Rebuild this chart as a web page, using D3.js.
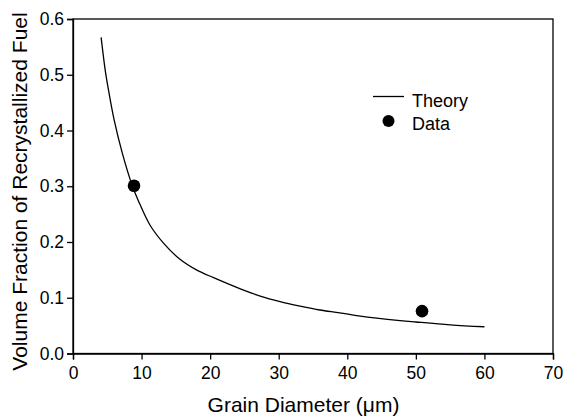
<!DOCTYPE html>
<html>
<head>
<meta charset="utf-8">
<script src="https://cdn.jsdelivr.net/npm/d3@7"></script>
<style>
  body { margin: 0; background: #fff; }
  svg { font-family: "Liberation Sans", Arial, sans-serif; }
</style>
</head>
<body>
<svg id="chart" width="564" height="416"></svg>
<script>
// theory curve
var theoryX = [4.1, 4.7, 5.1, 6.0, 7.2, 8.7, 9.5, 11.2, 13.2, 15.6, 18.0, 20.5, 24.4, 27.3, 30.2, 33.1, 36.0, 38.9, 41.9, 47.7, 50.0, 55.0, 60.0];
var theoryY = [0.567, 0.508, 0.478, 0.419, 0.359, 0.299, 0.275, 0.231, 0.198, 0.169, 0.150, 0.136, 0.116, 0.103, 0.093, 0.085, 0.078, 0.073, 0.067, 0.059, 0.0565, 0.0515, 0.048];

// measured points
var dataX = [8.9, 50.9];
var dataY = [0.301, 0.076];

var xTicks = [0, 10, 20, 30, 40, 50, 60, 70];
var yTicks = [0.0, 0.1, 0.2, 0.3, 0.4, 0.5, 0.6];

var svg = d3.select("#chart");
var plotLeft = 73, plotTop = 19, plotRight = 553, plotBottom = 353.5;

var x = d3.scaleLinear().domain([0, 70]).range([plotLeft, plotRight]);
var y = d3.scaleLinear().domain([0, 0.6]).range([plotBottom, plotTop]);

// frame
svg.append("rect")
    .attr("x", plotLeft).attr("y", plotTop)
    .attr("width", plotRight - plotLeft).attr("height", plotBottom - plotTop)
    .attr("fill", "none").attr("stroke", "#000").attr("stroke-width", 1.3);

var xAxis = d3.axisBottom(x).tickValues(xTicks).tickSize(6).tickPadding(7).tickFormat(d3.format("d"));
var yAxis = d3.axisLeft(y).tickValues(yTicks).tickSize(6).tickPadding(3).tickFormat(d3.format(".1f"));

svg.append("g")
    .attr("class", "axis")
    .attr("transform", "translate(0," + plotBottom + ")")
    .call(xAxis);

svg.append("g")
    .attr("class", "axis")
    .attr("transform", "translate(" + plotLeft + ",0)")
    .call(yAxis);

svg.selectAll(".axis").attr("font-size", null).attr("font-family", null);
svg.selectAll(".axis .domain").attr("stroke-width", 1.3);
svg.selectAll(".axis line").attr("stroke-width", 1.3);
svg.selectAll(".axis text")
    .style("font-size", "17.5px")
    .attr("fill", "#000");

// theory line
var theory = theoryX.map(function(d, i) { return [d, theoryY[i]]; });
var line = d3.line()
    .x(function(d) { return x(d[0]); })
    .y(function(d) { return y(d[1]); })
    .curve(d3.curveCatmullRom);

svg.append("path")
    .datum(theory)
    .attr("d", line)
    .attr("fill", "none")
    .attr("stroke", "#000")
    .attr("stroke-width", 1.3);

// data points
svg.selectAll("circle.pt")
    .data(dataX)
    .enter()
    .append("circle")
    .attr("class", "pt")
    .attr("cx", function(d) { return x(d); })
    .attr("cy", function(d, i) { return y(dataY[i]); })
    .attr("r", 6.3)
    .attr("fill", "#000");

// legend
svg.append("line")
    .attr("x1", 373).attr("x2", 404)
    .attr("y1", 96.5).attr("y2", 96.5)
    .attr("stroke", "#000").attr("stroke-width", 1.3);
svg.append("text")
    .attr("x", 412).attr("y", 106.5)
    .style("font-size", "18px")
    .text("Theory");
svg.append("circle")
    .attr("cx", 388.5).attr("cy", 121)
    .attr("r", 6)
    .attr("fill", "#000");
svg.append("text")
    .attr("x", 412).attr("y", 129.5)
    .style("font-size", "18px")
    .text("Data");

// axis labels
svg.append("text")
    .attr("x", 303.5).attr("y", 411.5)
    .style("text-anchor", "middle")
    .style("font-size", "21px")
    .text("Grain Diameter (\u03bcm)");

svg.append("text")
    .attr("transform", "translate(26.5,191.5) rotate(-90)")
    .style("text-anchor", "middle")
    .style("font-size", "21px")
    .text("Volume Fraction of Recrystallized Fuel");
</script>
</body>
</html>
